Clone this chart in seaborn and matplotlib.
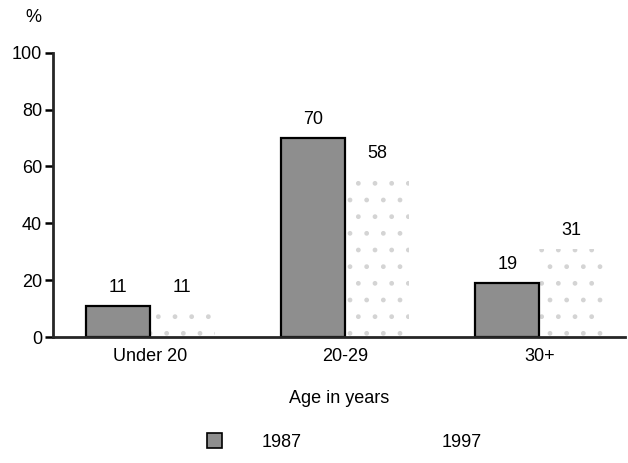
import pandas as pd
import matplotlib
matplotlib.use("Agg")
import matplotlib.pyplot as plt
import seaborn as sns
from matplotlib.patches import Patch

# data
age_groups = ["Under 20", "20-29", "30+"]
pct_1987 = [11, 70, 19]
pct_1997 = [11, 58, 31]
years = ["1987", "1997"]

df = pd.DataFrame({
    "age": age_groups * 2,
    "pct": pct_1987 + pct_1997,
    "year": [years[0]] * 3 + [years[1]] * 3,
})

sns.set_style("ticks")
plt.rcParams["font.family"] = ["Liberation Sans", "DejaVu Sans"]
plt.rcParams["text.color"] = "black"
plt.rcParams["xtick.color"] = "black"
plt.rcParams["ytick.color"] = "black"
plt.rcParams["axes.labelcolor"] = "black"
plt.rcParams["hatch.linewidth"] = 1.0

fig = plt.figure(figsize=(6.28, 4.63), dpi=100)
ax = fig.add_axes([0.0844, 0.272, 0.911, 0.614])

sns.barplot(data=df, x="age", y="pct", hue="year", palette=["#8c8c8c", "white"],
            width=0.66, saturation=1, ax=ax, legend=False)

c87, c97 = ax.containers
for p in c87:
    p.set_facecolor("#8e8e8e")
    p.set_edgecolor("black")
    p.set_linewidth(1.6)
    p.set_zorder(3)
for p in c97:
    p.set_facecolor("white")
    p.set_edgecolor("#d4d4d4")
    p.set_hatch(".")
    p.set_linewidth(0)
    p.set_zorder(2)

ax.bar_label(c87, fmt="%d", padding=7, fontsize=13)
ax.bar_label(c97, fmt="%d", padding=7, fontsize=13)

ax.set_ylim(0, 100)
ax.set_xlim(-0.5, 2.44)
ax.set_yticks(range(0, 101, 20))
ax.tick_params(axis="y", labelsize=13, width=1.8, length=6, direction="out", pad=2)
ax.tick_params(axis="x", labelsize=13, length=0, pad=8)
ax.spines["left"].set_linewidth(2)
ax.spines["bottom"].set_linewidth(2)
ax.spines["left"].set_zorder(4)
ax.spines["bottom"].set_zorder(4)
ax.spines["top"].set_visible(False)
ax.spines["right"].set_visible(False)
ax.set_xlabel("Age in years", fontsize=13, labelpad=18)
ax.set_ylabel("")
fig.text(0.053, 0.962, "%", fontsize=13, ha="center", va="center")

handles = [
    Patch(facecolor="#8e8e8e", edgecolor="black", linewidth=1.2),
    Patch(facecolor="white", edgecolor="white", linewidth=0),
]
fig.legend(handles, years, loc="center", bbox_to_anchor=(0.548, 0.045), ncol=2,
           frameon=False, fontsize=13, columnspacing=4.7, handlelength=0.85,
           handleheight=0.9, handletextpad=2.2)

fig.savefig("out.png", dpi=100)
